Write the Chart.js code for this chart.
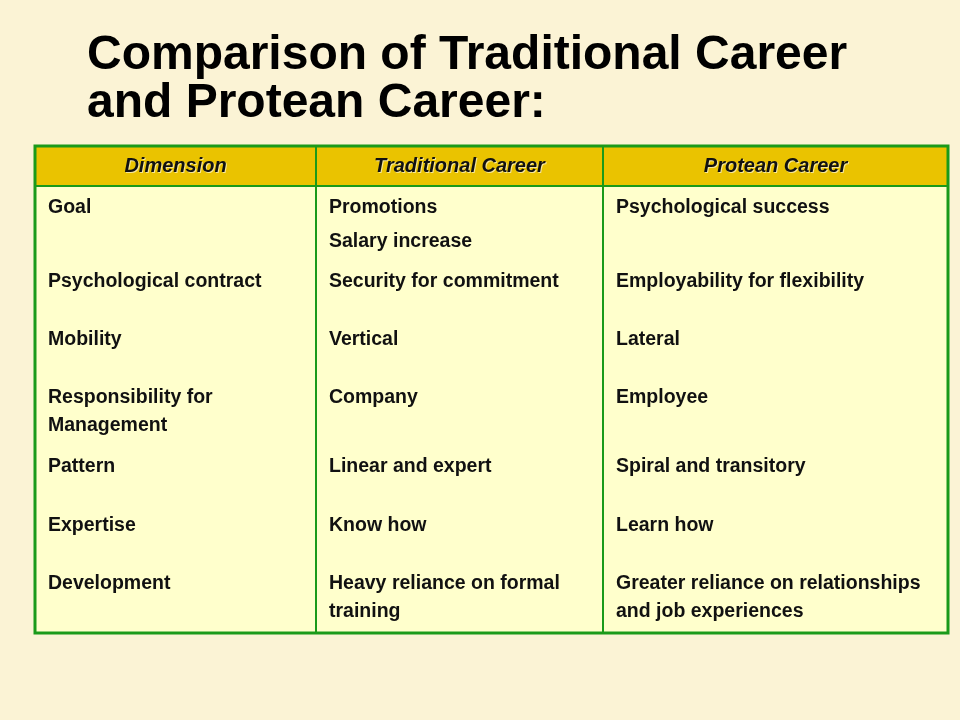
<!DOCTYPE html>
<html>
<head>
<meta charset="utf-8">
<script src="https://cdn.jsdelivr.net/npm/chart.js@4"></script>
<style>
  body { margin: 0; background: #fbf3d5; }
</style>
</head>
<body>
<canvas id="chart" width="960" height="720"></canvas>
<script>
const titleLines = ["Comparison of Traditional Career", "and Protean Career:"];
const headers = ["Dimension", "Traditional Career", "Protean Career"];
const dimensions = [["Goal"], ["Psychological contract"], ["Mobility"], ["Responsibility for", "Management"], ["Pattern"], ["Expertise"], ["Development"]];
const traditional = [["Promotions", "", "Salary increase"], ["Security for commitment"], ["Vertical"], ["Company"], ["Linear and expert"], ["Know how"], ["Heavy reliance on formal", "training"]];
const protean = [["Psychological success"], ["Employability for flexibility"], ["Lateral"], ["Employee"], ["Spiral and transitory"], ["Learn how"], ["Greater reliance on relationships", "and job experiences"]];

// layout
const colX = [35, 316, 603, 948];
const tableTop = 146, headBottom = 186, tableBottom = 633;
const rowTextY = [208, 282, 340, 398, 467, 526, 584];

const tablePlugin = {
  id: "table",
  beforeDraw(chart) {
    const c = chart.ctx;
    c.save();
    c.fillStyle = "#fbf3d5";
    c.fillRect(0, 0, chart.width, chart.height);

    // title
    c.fillStyle = "#000";
    c.font = "bold 48px 'Liberation Sans', Arial, sans-serif";
    c.textBaseline = "middle";
    c.fillText(titleLines[0], 87, 56);
    c.fillText(titleLines[1], 87, 104);

    // body and header fills
    c.fillStyle = "#ffffcc";
    c.fillRect(colX[0], tableTop, colX[3] - colX[0], tableBottom - tableTop);
    c.fillStyle = "#eac300";
    c.fillRect(colX[0], tableTop, colX[3] - colX[0], headBottom - tableTop);

    // header text
    c.font = "italic bold 20px 'Liberation Sans', Arial, sans-serif";
    c.textAlign = "center";
    headers.forEach((h, i) => {
      const x = (colX[i] + colX[i + 1]) / 2;
      c.fillStyle = "rgba(255,255,255,0.6)";
      c.fillText(h, x + 1, 167);
      c.fillStyle = "#111";
      c.fillText(h, x, 166);
    });

    // body text
    c.textAlign = "left";
    c.font = "bold 19.5px 'Liberation Sans', Arial, sans-serif";
    c.fillStyle = "#111";
    [dimensions, traditional, protean].forEach((col, ci) => {
      col.forEach((lines, r) => {
        let y = rowTextY[r];
        lines.forEach((t) => {
          if (t === "") { y += 6; return; }
          c.fillText(t, colX[ci] + 13, y);
          y += 28;
        });
      });
    });

    // borders
    c.strokeStyle = "#1a9a1a";
    c.lineWidth = 2;
    c.beginPath();
    c.moveTo(colX[0], headBottom); c.lineTo(colX[3], headBottom);
    c.moveTo(colX[1], tableTop); c.lineTo(colX[1], tableBottom);
    c.moveTo(colX[2], tableTop); c.lineTo(colX[2], tableBottom);
    c.stroke();
    c.lineWidth = 3;
    c.strokeRect(colX[0], tableTop, colX[3] - colX[0], tableBottom - tableTop);
    c.restore();
  }
};

new Chart(document.getElementById("chart"), {
  type: "bar",
  data: { labels: dimensions.map((d) => d.join(" ")), datasets: [{ data: [], label: "table" }] },
  options: {
    responsive: false,
    animation: false,
    plugins: { legend: { display: false }, tooltip: { enabled: false } },
    scales: { x: { display: false }, y: { display: false } }
  },
  plugins: [tablePlugin]
});
</script>
</body>
</html>
